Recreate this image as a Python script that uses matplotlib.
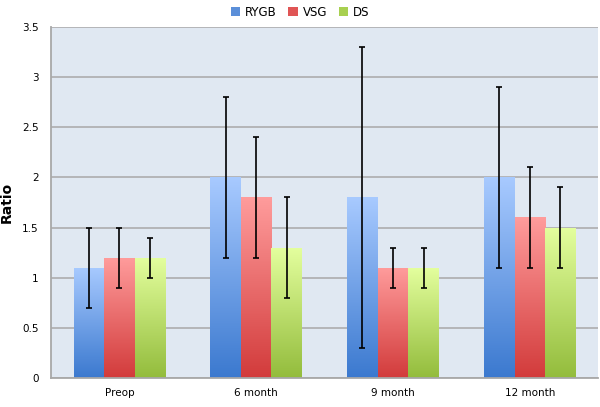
import numpy as np
import matplotlib
matplotlib.use("Agg")
import matplotlib.pyplot as plt
from matplotlib.colors import LinearSegmentedColormap
from matplotlib.patches import Patch

categories = ["Preop", "6 month", "9 month", "12 month"]
series = ["RYGB", "VSG", "DS"]
rygb = [1.1, 2.0, 1.8, 2.0]
vsg = [1.2, 1.8, 1.1, 1.6]
ds = [1.2, 1.3, 1.1, 1.5]
rygb_low = [0.7, 1.2, 0.3, 1.1]
rygb_high = [1.5, 2.8, 3.3, 2.9]
vsg_low = [0.9, 1.2, 0.9, 1.1]
vsg_high = [1.5, 2.4, 1.3, 2.1]
ds_low = [1.0, 0.8, 0.9, 1.1]
ds_high = [1.4, 1.8, 1.3, 1.9]
yticks = [0, 0.5, 1, 1.5, 2, 2.5, 3, 3.5]
ytick_labels = ["0", "0.5", "1", "1.5", "2", "2.5", "3", "3.5"]

values = [rygb, vsg, ds]
lows = [rygb_low, vsg_low, ds_low]
highs = [rygb_high, vsg_high, ds_high]
tops = ["#a8caff", "#ff9c9c", "#e4ff9e"]
bottoms = ["#3b79cf", "#d23b3b", "#93bc3c"]
legend_colors = ["#5b8fd9", "#e05555", "#a8d050"]

plt.rcParams['font.family'] = ['DejaVu Sans']
fig = plt.figure(figsize=(6.0, 4.07), dpi=100)
ax = fig.add_axes([0.085, 0.0713, 0.912, 0.8627])
ax.set_facecolor("#e0e8f2")

x = np.arange(len(categories))
w = 0.223
offsets = [-w, 0, w]

ax.set_xlim(-0.5, len(categories) - 0.5)
ax.set_ylim(0, 3.5)
ax.set_yticks(yticks)
ax.set_yticklabels(ytick_labels)
ax.yaxis.grid(True, color="#a8a8a8", linewidth=1.1)
ax.set_axisbelow(True)

grad = np.linspace(1, 0, 256).reshape(-1, 1)
for i in range(3):
    cmap = LinearSegmentedColormap.from_list("g%d" % i, [bottoms[i], tops[i]])
    bars = ax.bar(x + offsets[i], values[i], width=w, color="none", edgecolor="none", zorder=2)
    for b in bars:
        x0, y0 = b.get_x(), b.get_y()
        x1, y1 = x0 + b.get_width(), y0 + b.get_height()
        im = ax.imshow(grad, extent=[x0, x1, y0, y1], cmap=cmap, aspect="auto",
                       zorder=2, vmin=0, vmax=1)
        im.set_clip_path(b)
    yerr = [np.array(values[i]) - np.array(lows[i]), np.array(highs[i]) - np.array(values[i])]
    ax.errorbar(x + offsets[i], values[i], yerr=yerr, fmt="none", ecolor="black",
                elinewidth=1.2, capsize=2.3, capthick=1.2, zorder=3)

ax.set_xlim(-0.5, len(categories) - 0.5)
ax.set_ylim(0, 3.5)
ax.set_xticks(x)
ax.set_xticklabels(categories, fontsize=7.5)
ax.tick_params(axis="x", length=0, pad=7)
ax.tick_params(axis="y", length=0, labelsize=7.5, pad=9)
for s in ["top", "right"]:
    ax.spines[s].set_visible(False)
for s in ["left", "bottom"]:
    ax.spines[s].set_color("#a8a8a8")
    ax.spines[s].set_linewidth(1.3)
ax.set_ylabel("Ratio", fontsize=10, fontweight="bold", labelpad=6)

handles = [Patch(facecolor=c, edgecolor="none") for c in legend_colors]
fig.legend(handles, series, loc="upper center", bbox_to_anchor=(0.5, 1.012), ncol=3,
           frameon=False, fontsize=8.5, handlelength=0.8, handleheight=0.8,
           handletextpad=0.4, columnspacing=1.0)

fig.savefig("out.png", dpi=100)
